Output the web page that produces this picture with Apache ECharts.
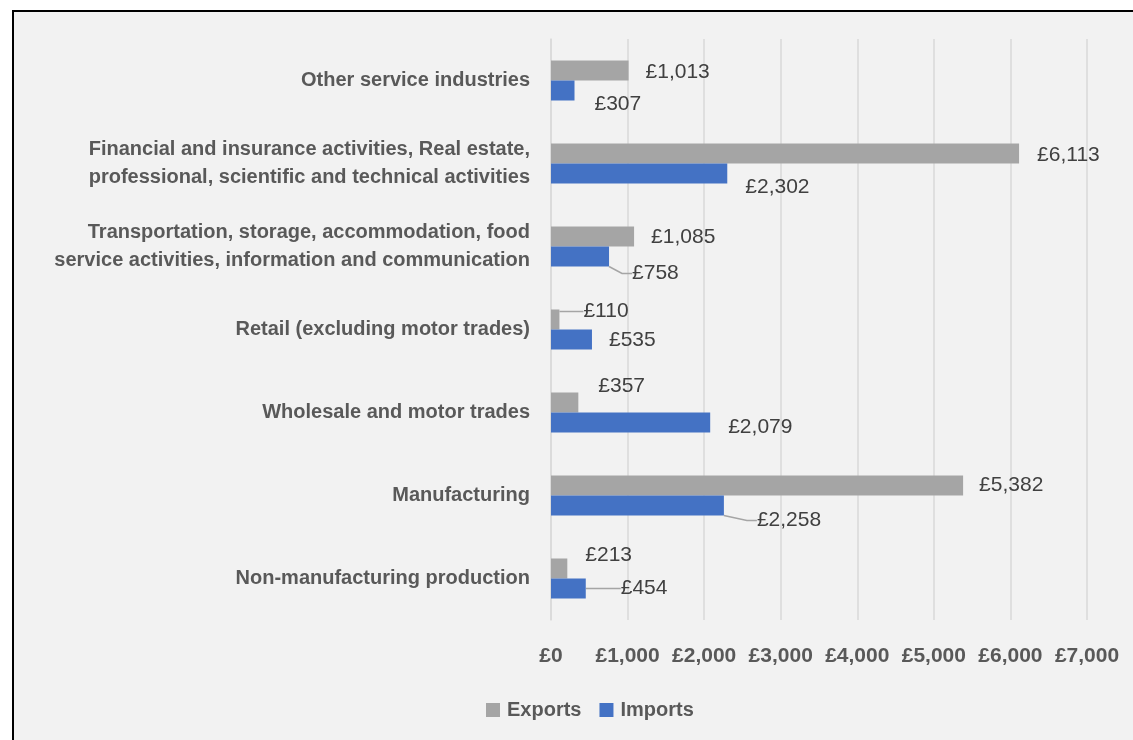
<!DOCTYPE html>
<html>
<head>
<meta charset="utf-8">
<script src="https://cdn.jsdelivr.net/npm/echarts@6/dist/echarts.min.js"></script>
<style>
  html, body { margin: 0; padding: 0; background: #ffffff; width: 1133px; height: 740px; overflow: hidden; }
  #frame { position: absolute; left: 12px; top: 10px; width: 1200px; height: 800px;
           border-left: 2px solid #000; border-top: 2px solid #000; background: #F2F2F2; }
  #chart { position: absolute; left: 0; top: 0; width: 1133px; height: 740px; }
</style>
</head>
<body>
<div id="frame"></div>
<div id="chart"></div>
<script>
// Categories listed top to bottom
const categories = [
  'Other service industries',
  'Financial and insurance activities, Real estate,\nprofessional, scientific and technical activities',
  'Transportation, storage, accommodation, food\nservice activities, information and communication',
  'Retail (excluding motor trades)',
  'Wholesale and motor trades',
  'Manufacturing',
  'Non-manufacturing production'
];
const exportsValues = [1013, 6113, 1085, 110, 357, 5382, 213];
const importsValues = [307, 2302, 758, 535, 2079, 2258, 454];
const xTickMin = 0, xTickMax = 7000, xTickStep = 1000;

// Label placement offsets (dx, dy from bar end) and leader-line flags
const exportsLabelOffset = [[17, 2], [18, 2], [17, 1], [24, -8], [20, -16], [16, 0], [18, -13]];
const importsLabelOffset = [[20, 14], [18, 14], [23, 17], [17, 1], [18, 5], [33, 15], [35, 0]];
const exportsLeader = [false, false, false, true, false, false, false];
const importsLeader = [false, false, true, false, false, true, true];

const fmt = v => '£' + Number(v).toLocaleString('en-GB');

function buildData(values, leaders) {
  return values.map((v, i) => ({ value: v, labelLine: { show: leaders[i] } }));
}

const chart = echarts.init(document.getElementById('chart'), null, { renderer: 'canvas' });
const labelCommon = {
  show: true, position: 'right', distance: 0,
  formatter: p => fmt(p.value),
  fontFamily: 'Liberation Sans', fontSize: 21, color: '#404040'
};
const lineCommon = { show: false, length2: 10, lineStyle: { color: '#A5A5A5', width: 1.5 } };

chart.setOption({
  backgroundColor: 'transparent',
  animation: false,
  grid: { left: 551, top: 39, right: 46, bottom: 120, containLabel: false },
  legend: {
    data: ['Exports', 'Imports'],
    left: 481, top: 695,
    icon: 'rect', itemWidth: 14, itemHeight: 14, itemGap: 18, itemStyle: {},
    textStyle: { fontFamily: 'Liberation Sans', fontWeight: 'bold', fontSize: 20, color: '#595959', padding: [0, 0, 0, 2] }
  },
  xAxis: {
    type: 'value', min: xTickMin, max: xTickMax, interval: xTickStep,
    axisLine: { show: false }, axisTick: { show: false },
    splitLine: { lineStyle: { color: '#D9D9D9', width: 1.5 } },
    axisLabel: { formatter: v => fmt(v), margin: 26, fontFamily: 'Liberation Sans', fontWeight: 'bold', fontSize: 21, color: '#595959' }
  },
  yAxis: {
    type: 'category', data: categories, inverse: true,
    axisLine: { show: true, lineStyle: { color: '#D9D9D9', width: 1.5 } },
    axisTick: { show: false },
    axisLabel: { margin: 21, align: 'right', fontFamily: 'Liberation Sans', fontWeight: 'bold', fontSize: 20, lineHeight: 28, color: '#595959' }
  },
  series: [
    {
      name: 'Exports', type: 'bar', barWidth: 20, barGap: '0%',
      itemStyle: { color: '#A5A5A5' },
      data: buildData(exportsValues, exportsLeader),
      label: labelCommon,
      labelLine: lineCommon,
      labelLayout: p => ({ dx: exportsLabelOffset[p.dataIndex][0], dy: exportsLabelOffset[p.dataIndex][1] })
    },
    {
      name: 'Imports', type: 'bar', barWidth: 20, barGap: '0%',
      itemStyle: { color: '#4472C4' },
      data: buildData(importsValues, importsLeader),
      label: labelCommon,
      labelLine: lineCommon,
      labelLayout: p => ({ dx: importsLabelOffset[p.dataIndex][0], dy: importsLabelOffset[p.dataIndex][1] })
    }
  ]
});
</script>
</body>
</html>
